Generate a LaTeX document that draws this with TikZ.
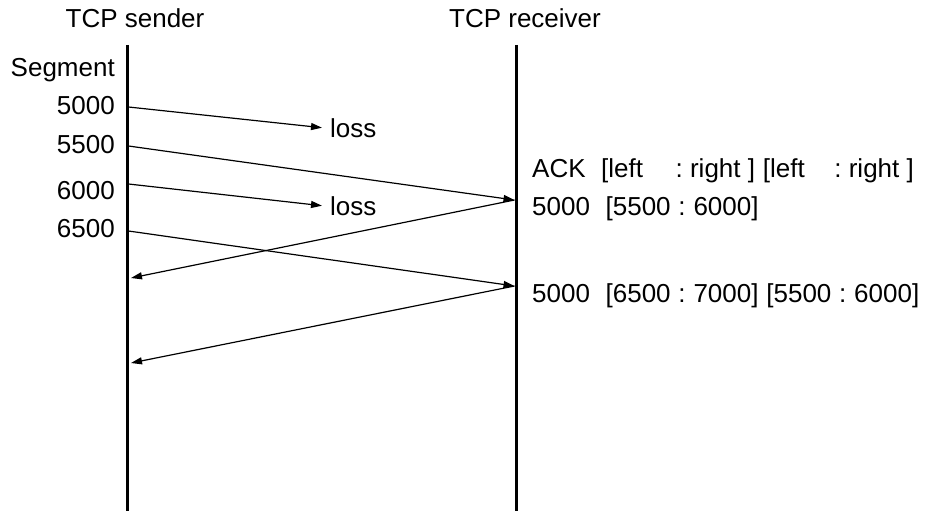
\documentclass[tikz,border=0pt]{standalone}
\usepackage{fontspec}
\setmainfont{Liberation Sans}
\usetikzlibrary{arrows.meta}
\newcommand\widespaces{\spaceskip=0.3em\relax}
\tikzset{
  lifeline/.style={line width=3pt},
  msg/.style={line width=1.2pt, -{Triangle[length=11pt,width=7pt]}},
  lbl/.style={inner sep=0pt, font=\fontsize{26}{30}\selectfont\frenchspacing},
  acklbl/.style={lbl, anchor=base west, execute at begin node=\widespaces},
}
\begin{document}
\begin{tikzpicture}[x=1pt,y=-1pt]
\useasboundingbox (0,0) rectangle (928,511);
% lifelines
\coordinate (sTop) at (127,45);
\coordinate (sBot) at (127,511);
\coordinate (rTop) at (516,45);
\coordinate (rBot) at (516,511);
\draw[lifeline] (sTop) -- (sBot);
\draw[lifeline] (rTop) -- (rBot);
% titles
\node[lbl, anchor=base] (tcps) at (135,28) {TCP sender};
\node[lbl, anchor=base] (tcpr) at (525,28) {TCP receiver};
\node[lbl, anchor=base east] (seg) at (115,76) {Segment};
\node[lbl, anchor=base east] (n5000) at (115,114) {5000};
\node[lbl, anchor=base east] (n5500) at (115,153) {5500};
\node[lbl, anchor=base east] (n6000) at (115,199) {6000};
\node[lbl, anchor=base east] (n6500) at (115,237) {6500};
\node[lbl, anchor=base west] (loss1) at (330,137) {loss};
\node[lbl, anchor=base west] (loss2) at (330,215) {loss};
% receiver texts
\node[lbl, anchor=base west] (ackhdr) at (532,177) {ACK\hspace{15.5pt}[left\hspace{32.6pt}:\hspace{7.2pt}right\hspace{7.2pt}]\hspace{7.8pt}[left\hspace{29.6pt}:\hspace{7.2pt}right\hspace{7.2pt}]};
\node[acklbl] (ack1) at (532,215) {5000~~[5500 : 6000]};
\node[acklbl] (ack2) at (532,302) {5000~~[6500 : 7000] [5500 : 6000]};
% points on lifelines
\coordinate (s5000) at (128.5,107);
\coordinate (s5500) at (128.5,146);
\coordinate (s6000) at (128.5,184);
\coordinate (s6500) at (128.5,231);
\coordinate (r1) at (514.5,200);
\coordinate (r2) at (514.5,286);
\coordinate (sa1) at (131,278);
\coordinate (sa2) at (131,363);
% messages
\draw[msg] (s5000) -- ([xshift=-8pt]loss1.west);
\draw[msg] (s5500) -- (r1);
\draw[msg] (s6000) -- ([xshift=-8pt]loss2.west);
\draw[msg] (s6500) -- (r2);
\draw[msg] (r1) -- (sa1);
\draw[msg] (r2) -- (sa2);
\end{tikzpicture}
\end{document}
